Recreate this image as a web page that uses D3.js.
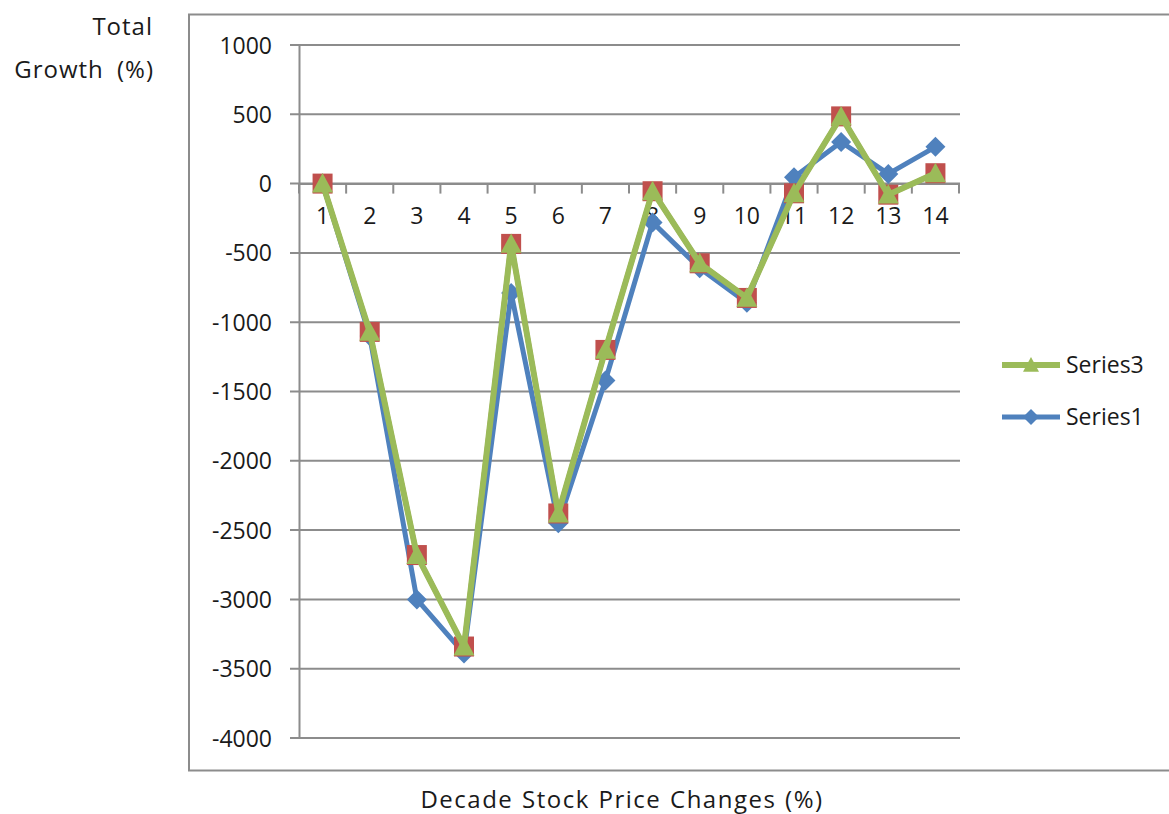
<!DOCTYPE html>
<html><head><meta charset="utf-8">
<script src="https://cdn.jsdelivr.net/npm/d3@7"></script>
<style>
html,body{margin:0;padding:0;background:#fff;}
svg text{font-family:"Open Sans",sans-serif;fill:#1a1a1a;}
</style></head>
<body>
<svg id="chart" width="1169" height="814"></svg>
<script>
const categories = [1,2,3,4,5,6,7,8,9,10,11,12,13,14];
const series1 = [0,-1100,-3000,-3390,-790,-2450,-1420,-280,-610,-860,45,300,70,265];
const series2 = [0,-1070,-2680,-3340,-435,-2380,-1200,-55,-575,-825,-70,485,-80,75];
const series3 = [0,-1070,-2680,-3340,-435,-2380,-1200,-55,-575,-825,-70,485,-80,75];
const yTicks = [1000,500,0,-500,-1000,-1500,-2000,-2500,-3000,-3500,-4000];
const legendNames = ["Series3","Series1"];

const svg = d3.select("#chart");
const gridColor = "#8c8c8c";

// outer chart border
svg.append("rect").attr("x",189).attr("y",14.5).attr("width",1000).attr("height",756)
  .attr("fill","none").attr("stroke",gridColor).attr("stroke-width",2);

const x = d3.scaleBand().domain(categories).range([299,959]);
const y = d3.scaleLinear().domain([-4000,1000]).range([738,45]);

// gridlines
svg.append("g").selectAll("line").data(yTicks).join("line")
  .attr("x1",290).attr("x2",960).attr("y1",d=>y(d)).attr("y2",d=>y(d))
  .attr("stroke",gridColor).attr("stroke-width",2);

// y axis
const yAxis = d3.axisLeft(y).tickValues(yTicks).tickSize(0).tickPadding(27).tickFormat(d=>String(d));
const gy = svg.append("g").attr("transform","translate(299,0)").call(yAxis);
gy.select(".domain").attr("stroke",gridColor).attr("stroke-width",2);
gy.selectAll("text").style("font-size","23px").attr("fill","#1a1a1a").attr("dy","0.35em");

// x axis at zero
const xAxis = d3.axisBottom(x).tickSize(0).tickPadding(24).tickFormat(d=>String(d));
const gx = svg.append("g").attr("transform",`translate(0,${y(0)})`).call(xAxis);
gx.select(".domain").attr("stroke",gridColor).attr("stroke-width",2);
gx.selectAll("text").style("font-size","23px").attr("fill","#1a1a1a");
// tick marks at band boundaries
const bounds = categories.map(c=>x(c)).concat([x(categories[categories.length-1])+x.bandwidth()]);
svg.append("g").selectAll("line").data(bounds).join("line")
  .attr("x1",d=>d).attr("x2",d=>d).attr("y1",y(0)).attr("y2",y(0)+10)
  .attr("stroke",gridColor).attr("stroke-width",2);

const cx = c => x(c) + x.bandwidth()/2;
const line = d3.line().x((d,i)=>cx(categories[i])).y(d=>y(d));

const diamond = (s)=>`M0,${-s}L${s},0L0,${s}L${-s},0Z`;
const square = (s)=>`M${-s},${-s}H${s}V${s}H${-s}Z`;
const triangle = (s)=>`M0,${-s}L${s},${s*0.85}L${-s},${s*0.85}Z`;

const defs = [
  {data:series1,color:"#4F81BD",width:5,shape:diamond(10)},
  {data:series2,color:"#C0504D",width:5,shape:square(10)},
  {data:series3,color:"#9BBB59",width:6,shape:triangle(10.5)}
];
defs.forEach(s=>{
  const g = svg.append("g");
  g.append("path").attr("d",line(s.data)).attr("fill","none")
    .attr("stroke",s.color).attr("stroke-width",s.width).attr("stroke-linejoin","round");
  g.selectAll("path.m").data(s.data).join("path").attr("class","m")
    .attr("d",s.shape).attr("fill",s.color)
    .attr("transform",(d,i)=>`translate(${cx(categories[i])},${y(d)})`);
});

// legend
const legend = [
  {name:legendNames[0],color:"#9BBB59",shape:triangle(8),w:6},
  {name:legendNames[1],color:"#4F81BD",shape:diamond(8),w:5}
];
legend.forEach((l,i)=>{
  const ly = 365 + i*52;
  svg.append("line").attr("x1",1002).attr("x2",1060).attr("y1",ly).attr("y2",ly)
    .attr("stroke",l.color).attr("stroke-width",l.w);
  svg.append("path").attr("d",l.shape).attr("fill",l.color).attr("transform",`translate(1031,${ly})`);
  svg.append("text").attr("x",1066).attr("y",ly).attr("dy","0.35em")
    .style("font-size","23px").text(l.name);
});

// axis titles
svg.append("text").attr("x",153).attr("y",27).attr("dy","0.35em").attr("text-anchor","end")
  .style("font-size","24px").style("letter-spacing","1px").text("Total");
svg.append("text").attr("x",154).attr("y",70).attr("dy","0.35em").attr("text-anchor","end")
  .style("font-size","24px").style("letter-spacing","1px").style("word-spacing","6px").text("Growth (%)");
svg.append("text").attr("x",622).attr("y",800).attr("dy","0.35em").attr("text-anchor","middle")
  .style("font-size","24px").style("letter-spacing","1.5px").style("word-spacing","1px").text("Decade Stock Price Changes (%)");
</script>
</body></html>
